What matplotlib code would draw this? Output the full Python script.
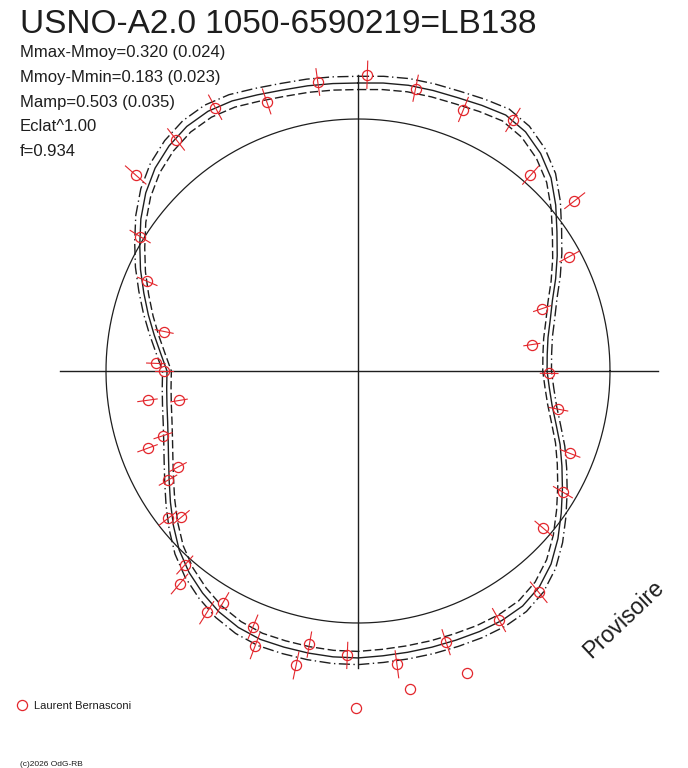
import numpy as np
import matplotlib.pyplot as plt

plt.rcParams['font.family'] = ['Liberation Sans', 'DejaVu Sans']

title = "USNO-A2.0 1050-6590219=LB138"
stats = ["Mmax-Mmoy=0.320 (0.024)", "Mmoy-Mmin=0.183 (0.023)",
         "Mamp=0.503 (0.035)", "Eclat^1.00", "f=0.934"]
observer = "Laurent Bernasconi"
credit = "(c)2026 OdG-RB"
stamp = "Provisoire"

# measurements: phase (0..1, clockwise from top) and mag - mean mag
phase = [0.005, 0.978, 0.032, 0.061, 0.088, 0.115, 0.144, 0.171, 0.198, 0.226,
         0.252, 0.280, 0.309, 0.335, 0.362, 0.391, 0.418, 0.450, 0.479, 0.506,
         0.528, 0.533, 0.557, 0.562, 0.584, 0.589, 0.616, 0.611, 0.640, 0.645,
         0.667, 0.672, 0.694, 0.699, 0.728, 0.724, 0.750, 0.756, 0.782, 0.814,
         0.838, 0.865, 0.894, 0.921, 0.948]
dmag = [-0.175, -0.158, -0.146, -0.121, -0.170, -0.037, -0.096, 0.052, 0.283, 0.392,
        0.301, 0.230, 0.112, 0.063, 0.039, -0.135, -0.137, -0.133, -0.173, -0.131,
        -0.105, -0.191, -0.165, -0.100, -0.070, -0.133, -0.033, -0.105, 0.102, 0.052,
        0.153, 0.230, 0.128, 0.223, 0.186, 0.358, 0.286, 0.240, 0.264, 0.105,
        -0.016, -0.175, -0.168, -0.188, -0.131]
err = 0.05

# points without error estimate
extra_phase = [0.445, 0.474, 0.501]
extra_dmag = [-0.264, -0.268, -0.317]

# fitted curve read every 5 degrees of phase
fit_phase = np.arange(72) / 72
fit_dmag = [-0.145, -0.149, -0.153, -0.154, -0.156, -0.164, -0.173, -0.160,
            -0.130, -0.087, -0.026, 0.040, 0.099, 0.157, 0.214, 0.256,
            0.290, 0.307, 0.312, 0.295, 0.267, 0.224, 0.172, 0.123,
            0.071, 0.017, -0.038, -0.087, -0.122, -0.141, -0.145, -0.143,
            -0.139, -0.137, -0.136, -0.137, -0.141, -0.141, -0.139, -0.137,
            -0.136, -0.126, -0.107, -0.079, -0.046, -0.004, 0.049, 0.104,
            0.157, 0.203, 0.240, 0.267, 0.284, 0.295, 0.301, 0.262,
            0.214, 0.162, 0.109, 0.053, 0.000, -0.055, -0.103, -0.141,
            -0.167, -0.184, -0.189, -0.182, -0.167, -0.156, -0.151, -0.147]
fit_sig = 0.025

red = '#e3262c'
ink = '#1e1e1e'


def to_xy(ph, dm):
    # radius proportional to brightness (Eclat^1), mean = unit circle
    r = 10 ** (-0.4 * np.asarray(dm, dtype=float))
    a = 2 * np.pi * np.asarray(ph, dtype=float)
    return r * np.sin(a), r * np.cos(a)


fig = plt.figure(figsize=(6.88, 7.68), dpi=100)
ax = fig.add_axes([0, 0, 1, 1])
ax.set_xlim(-358 / 252, 330 / 252)
ax.set_ylim(-397 / 252, 371 / 252)
ax.axis('off')

# axes cross and mean circle
ax.plot([-1.183, 1.19], [0, 0], color=ink, lw=1.0)
ax.plot([0, 0], [-1.179, 1.175], color=ink, lw=1.0)
t = np.linspace(0, 2 * np.pi, 400)
ax.plot(np.cos(t), np.sin(t), color=ink, lw=0.9)

# fit and its envelope
fp = np.append(fit_phase, fit_phase[0])
fd = np.append(fit_dmag, fit_dmag[0])
x, y = to_xy(fp, fd)
ax.plot(x, y, color=ink, lw=1.0)
x, y = to_xy(fp, fd - fit_sig)
ax.plot(x, y, color=ink, lw=1.0, ls=(0, (8, 2.5, 1, 2.5)))
x, y = to_xy(fp, fd + fit_sig)
ax.plot(x, y, color=ink, lw=1.0, ls=(0, (6, 2.5)))

# error bars
for p, d in zip(phase, dmag):
    x, y = to_xy([p, p], [d - err, d + err])
    ax.plot(x, y, color=red, lw=0.8, zorder=4)

x, y = to_xy(phase, dmag)
ax.plot(x, y, 'o', ms=7.3, mfc='none', mec=red, mew=0.9, zorder=5)
x, y = to_xy(extra_phase, extra_dmag)
ax.plot(x, y, 'o', ms=7.3, mfc='none', mec=red, mew=0.9, zorder=5)

# texts
W, H = 688, 768
fig.text(20 / W, 1 - 33 / H, title, fontsize=24, color=ink, va='baseline')
for i, s in enumerate(stats):
    fig.text(20 / W, 1 - (57.3 + 24.7 * i) / H, s, fontsize=12, color=ink, va='baseline')

fig.text(624 / W, 1 - 619 / H, stamp, fontsize=16.5, color=ink, rotation=43.5,
         ha='center', va='center', rotation_mode='anchor')

ax.plot([22 / W], [1 - 705 / H], 'o', ms=7.3, mfc='none', mec=red, mew=0.9,
        transform=fig.transFigure, clip_on=False)
fig.text(34 / W, 1 - 709 / H, observer, fontsize=8, color=ink, va='baseline')
fig.text(20 / W, 1 - 766 / H, credit, fontsize=6, color=ink, va='baseline')

fig.savefig('out.png', dpi=100)
